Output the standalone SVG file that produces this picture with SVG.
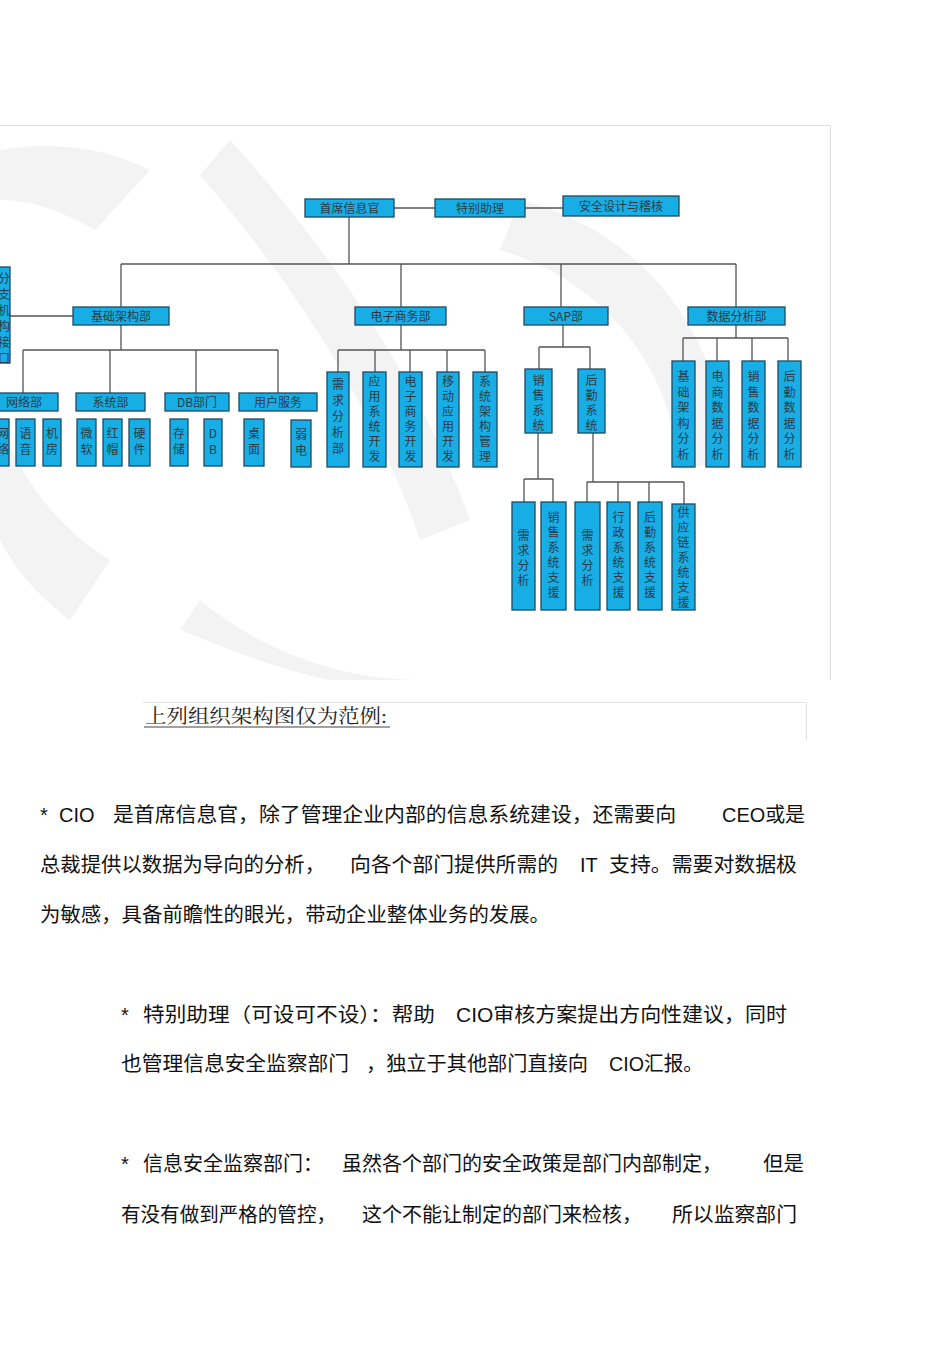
<svg xmlns="http://www.w3.org/2000/svg" width="950" height="1345" viewBox="0 0 950 1345">
<style>
.b{fill:#17aee6;stroke:#1d4a63;stroke-width:1.3}
.t{font-family:"Noto Sans CJK SC","Liberation Sans",sans-serif;font-size:12px;fill:#2a3a44;text-anchor:middle}
.v{font-family:"Noto Sans CJK SC","Liberation Sans",sans-serif;font-size:12px;fill:#2a3a44;text-anchor:middle}
.c{fill:none;stroke:#555;stroke-width:1.3}
.p{font-family:"Liberation Sans","Noto Sans CJK SC",sans-serif;font-size:20px;fill:#111}
.wm{fill:#f3f3f3}
</style>
<rect width="950" height="1345" fill="#fff"/>
<g id="watermark">
<path class="wm" d="M0 150 C60 140 110 150 150 170 L95 230 C60 210 30 200 0 200 Z"/>
<path class="wm" d="M0 420 C20 480 60 530 110 560 L70 620 C30 590 10 560 0 540 Z"/>
<path class="wm" d="M230 140 C330 250 420 380 470 520 L420 540 C380 420 300 290 200 175 Z"/>
<path class="wm" d="M520 200 C640 230 720 330 730 460 L680 470 C670 360 600 280 500 250 Z"/>
<path class="wm" d="M200 600 C260 650 340 680 420 680 L330 680 C280 670 230 650 180 630 Z"/>
</g>
<path d="M0 125.5 H830.5 V680" fill="none" stroke="#ddd" stroke-width="1"/>
<g id="connectors" class="c">
<path d="M394 208 H435 M525 208 H563"/>
<path d="M349 217 V264 M121 264 H736 M121 264 V307 M401 264 V307 M561 264 V307 M736 264 V307"/>
<path d="M10 316 H73"/>
<path d="M121 325 V350 M23 350 H278 M23 350 V393 M110 350 V393 M196 350 V393 M278 350 V393"/>
<path d="M401 325 V350 M338 350 H485 M338 350 V372 M375 350 V372 M410 350 V372 M447 350 V372 M485 350 V372"/>
<path d="M563 325 V347 M539 347 H590 M539 347 V369 M590 347 V369"/>
<path d="M538 433 V479 M524 479 H553 M524 479 V502 M553 479 V502"/>
<path d="M593 433 V482 M587 482 H684 M587 482 V502 M618 482 V502 M649 482 V502 M684 482 V504"/>
<path d="M736 325 V338 M683 338 H788 M683 338 V361 M717 338 V361 M752 338 V361 M788 338 V361"/>
</g>
<g id="n-cio"><rect class="b" x="305" y="199" width="89" height="18"/><text class="t" x="349.5" y="212.5">首席信息官</text></g>
<g id="n-assist"><rect class="b" x="435" y="199" width="90" height="18"/><text class="t" x="480" y="212.5">特别助理</text></g>
<g id="n-sec"><rect class="b" x="563" y="196" width="116" height="20"/><text class="t" x="621" y="210.5">安全设计与稽核</text></g>
<g id="n-branch"><rect class="b" x="-2" y="267" width="12" height="96"/><text class="v" x="4" y="283"><tspan x="4">分</tspan><tspan x="4" dy="16">支</tspan><tspan x="4" dy="16">机</tspan><tspan x="4" dy="16">构</tspan><tspan x="4" dy="16">接</tspan><tspan x="4" dy="16">口</tspan></text></g>
<g id="n-infra"><rect class="b" x="73" y="307" width="96" height="18"/><text class="t" x="121" y="320.5">基础架构部</text></g>
<g id="n-ec"><rect class="b" x="355" y="307" width="91" height="18"/><text class="t" x="400.5" y="320.5">电子商务部</text></g>
<g id="n-sap"><rect class="b" x="524" y="307" width="84" height="18"/><text class="t" x="566" y="320.5">SAP部</text></g>
<g id="n-da"><rect class="b" x="688" y="307" width="97" height="18"/><text class="t" x="736.5" y="320.5">数据分析部</text></g>
<g id="n-net"><rect class="b" x="-2" y="393" width="60" height="18"/><text class="t" x="24" y="406.5">网络部</text></g>
<g id="n-sys"><rect class="b" x="76" y="393" width="69" height="18"/><text class="t" x="110.5" y="406.5">系统部</text></g>
<g id="n-db"><rect class="b" x="165" y="393" width="64" height="18"/><text class="t" x="197" y="406.5">DB部门</text></g>
<g id="n-us"><rect class="b" x="239" y="393" width="78" height="18"/><text class="t" x="278" y="406.5">用户服务</text></g>
<g id="n-l1"><rect class="b" x="-2" y="419" width="11" height="47"/><text class="v" x="3" y="438"><tspan x="3">网</tspan><tspan x="3" dy="16">络</tspan></text></g>
<g id="n-l2"><rect class="b" x="16" y="419" width="19" height="47"/><text class="v" x="25.5" y="438"><tspan x="25.5">语</tspan><tspan x="25.5" dy="16">音</tspan></text></g>
<g id="n-l3"><rect class="b" x="43" y="419" width="18" height="47"/><text class="v" x="52" y="438"><tspan x="52">机</tspan><tspan x="52" dy="16">房</tspan></text></g>
<g id="n-l4"><rect class="b" x="77" y="419" width="19" height="47"/><text class="v" x="86.5" y="438"><tspan x="86.5">微</tspan><tspan x="86.5" dy="16">软</tspan></text></g>
<g id="n-l5"><rect class="b" x="103" y="419" width="19" height="47"/><text class="v" x="112.5" y="438"><tspan x="112.5">红</tspan><tspan x="112.5" dy="16">帽</tspan></text></g>
<g id="n-l6"><rect class="b" x="129" y="419" width="21" height="47"/><text class="v" x="139.5" y="438"><tspan x="139.5">硬</tspan><tspan x="139.5" dy="16">件</tspan></text></g>
<g id="n-l7"><rect class="b" x="170" y="419" width="18" height="47"/><text class="v" x="179" y="438"><tspan x="179">存</tspan><tspan x="179" dy="16">储</tspan></text></g>
<g id="n-l8"><rect class="b" x="204" y="419" width="18" height="47"/><text class="v" x="213" y="438"><tspan x="213">D</tspan><tspan x="213" dy="16">B</tspan></text></g>
<g id="n-l9"><rect class="b" x="244" y="419" width="20" height="47"/><text class="v" x="254" y="438"><tspan x="254">桌</tspan><tspan x="254" dy="16">面</tspan></text></g>
<g id="n-l10"><rect class="b" x="291" y="420" width="20" height="47"/><text class="v" x="301" y="439"><tspan x="301">弱</tspan><tspan x="301" dy="16">电</tspan></text></g>
<g id="n-e1"><rect class="b" x="327" y="372" width="22" height="95"/><text class="v" x="338" y="389"><tspan x="338">需</tspan><tspan x="338" dy="16">求</tspan><tspan x="338" dy="16">分</tspan><tspan x="338" dy="16">析</tspan><tspan x="338" dy="16">部</tspan></text></g>
<g id="n-e2"><rect class="b" x="363" y="372" width="23" height="95"/><text class="v" x="374.5" y="386"><tspan x="374.5">应</tspan><tspan x="374.5" dy="15">用</tspan><tspan x="374.5" dy="15">系</tspan><tspan x="374.5" dy="15">统</tspan><tspan x="374.5" dy="15">开</tspan><tspan x="374.5" dy="15">发</tspan></text></g>
<g id="n-e3"><rect class="b" x="399" y="372" width="23" height="95"/><text class="v" x="410.5" y="386"><tspan x="410.5">电</tspan><tspan x="410.5" dy="15">子</tspan><tspan x="410.5" dy="15">商</tspan><tspan x="410.5" dy="15">务</tspan><tspan x="410.5" dy="15">开</tspan><tspan x="410.5" dy="15">发</tspan></text></g>
<g id="n-e4"><rect class="b" x="437" y="372" width="22" height="95"/><text class="v" x="448" y="386"><tspan x="448">移</tspan><tspan x="448" dy="15">动</tspan><tspan x="448" dy="15">应</tspan><tspan x="448" dy="15">用</tspan><tspan x="448" dy="15">开</tspan><tspan x="448" dy="15">发</tspan></text></g>
<g id="n-e5"><rect class="b" x="473" y="372" width="24" height="95"/><text class="v" x="485" y="386"><tspan x="485">系</tspan><tspan x="485" dy="15">统</tspan><tspan x="485" dy="15">架</tspan><tspan x="485" dy="15">构</tspan><tspan x="485" dy="15">管</tspan><tspan x="485" dy="15">理</tspan></text></g>
<g id="n-s1"><rect class="b" x="525" y="369" width="27" height="64"/><text class="v" x="538.5" y="385"><tspan x="538.5">销</tspan><tspan x="538.5" dy="15">售</tspan><tspan x="538.5" dy="15">系</tspan><tspan x="538.5" dy="15">统</tspan></text></g>
<g id="n-s2"><rect class="b" x="578" y="369" width="27" height="64"/><text class="v" x="591.5" y="385"><tspan x="591.5">后</tspan><tspan x="591.5" dy="15">勤</tspan><tspan x="591.5" dy="15">系</tspan><tspan x="591.5" dy="15">统</tspan></text></g>
<g id="n-s11"><rect class="b" x="512" y="502" width="23" height="108"/><text class="v" x="523.5" y="540"><tspan x="523.5">需</tspan><tspan x="523.5" dy="15">求</tspan><tspan x="523.5" dy="15">分</tspan><tspan x="523.5" dy="15">析</tspan></text></g>
<g id="n-s12"><rect class="b" x="541" y="502" width="25" height="108"/><text class="v" x="553.5" y="522"><tspan x="553.5">销</tspan><tspan x="553.5" dy="15">售</tspan><tspan x="553.5" dy="15">系</tspan><tspan x="553.5" dy="15">统</tspan><tspan x="553.5" dy="15">支</tspan><tspan x="553.5" dy="15">援</tspan></text></g>
<g id="n-s21"><rect class="b" x="575" y="502" width="25" height="108"/><text class="v" x="587.5" y="540"><tspan x="587.5">需</tspan><tspan x="587.5" dy="15">求</tspan><tspan x="587.5" dy="15">分</tspan><tspan x="587.5" dy="15">析</tspan></text></g>
<g id="n-s22"><rect class="b" x="607" y="502" width="23" height="108"/><text class="v" x="618.5" y="522"><tspan x="618.5">行</tspan><tspan x="618.5" dy="15">政</tspan><tspan x="618.5" dy="15">系</tspan><tspan x="618.5" dy="15">统</tspan><tspan x="618.5" dy="15">支</tspan><tspan x="618.5" dy="15">援</tspan></text></g>
<g id="n-s23"><rect class="b" x="638" y="502" width="24" height="108"/><text class="v" x="650" y="522"><tspan x="650">后</tspan><tspan x="650" dy="15">勤</tspan><tspan x="650" dy="15">系</tspan><tspan x="650" dy="15">统</tspan><tspan x="650" dy="15">支</tspan><tspan x="650" dy="15">援</tspan></text></g>
<g id="n-s24"><rect class="b" x="672" y="504" width="23" height="106"/><text class="v" x="683.5" y="517"><tspan x="683.5">供</tspan><tspan x="683.5" dy="15">应</tspan><tspan x="683.5" dy="15">链</tspan><tspan x="683.5" dy="15">系</tspan><tspan x="683.5" dy="15">统</tspan><tspan x="683.5" dy="15">支</tspan><tspan x="683.5" dy="15">援</tspan></text></g>
<g id="n-d1"><rect class="b" x="672" y="361" width="23" height="106"/><text class="v" x="683.5" y="381"><tspan x="683.5">基</tspan><tspan x="683.5" dy="15.5">础</tspan><tspan x="683.5" dy="15.5">架</tspan><tspan x="683.5" dy="15.5">构</tspan><tspan x="683.5" dy="15.5">分</tspan><tspan x="683.5" dy="15.5">析</tspan></text></g>
<g id="n-d2"><rect class="b" x="706" y="361" width="23" height="106"/><text class="v" x="717.5" y="381"><tspan x="717.5">电</tspan><tspan x="717.5" dy="15.5">商</tspan><tspan x="717.5" dy="15.5">数</tspan><tspan x="717.5" dy="15.5">据</tspan><tspan x="717.5" dy="15.5">分</tspan><tspan x="717.5" dy="15.5">析</tspan></text></g>
<g id="n-d3"><rect class="b" x="742" y="361" width="23" height="106"/><text class="v" x="753.5" y="381"><tspan x="753.5">销</tspan><tspan x="753.5" dy="15.5">售</tspan><tspan x="753.5" dy="15.5">数</tspan><tspan x="753.5" dy="15.5">据</tspan><tspan x="753.5" dy="15.5">分</tspan><tspan x="753.5" dy="15.5">析</tspan></text></g>
<g id="n-d4"><rect class="b" x="778" y="361" width="23" height="106"/><text class="v" x="789.5" y="381"><tspan x="789.5">后</tspan><tspan x="789.5" dy="15.5">勤</tspan><tspan x="789.5" dy="15.5">数</tspan><tspan x="789.5" dy="15.5">据</tspan><tspan x="789.5" dy="15.5">分</tspan><tspan x="789.5" dy="15.5">析</tspan></text></g>
<path d="M143 702.5 H806.5 V740" fill="none" stroke="#e2e2e2" stroke-width="1"/>
<text x="145" y="723" font-family="'Liberation Serif','Noto Serif CJK SC','Noto Sans CJK SC',serif" font-size="19" fill="#222" textLength="242" lengthAdjust="spacingAndGlyphs">上列组织架构图仅为范例:</text>
<line x1="144" y1="727" x2="390" y2="727" stroke="#444" stroke-width="1.2"/>
<g class="p">
<text x="40" y="822">*</text><text x="59" y="822">CIO</text>
<text x="113" y="822" textLength="563" lengthAdjust="spacingAndGlyphs">是首席信息官，除了管理企业内部的信息系统建设，还需要向</text>
<text x="722" y="822" textLength="83" lengthAdjust="spacingAndGlyphs">CEO或是</text>
<text x="40" y="872" textLength="285" lengthAdjust="spacingAndGlyphs">总裁提供以数据为导向的分析，</text>
<text x="350" y="872" textLength="208" lengthAdjust="spacingAndGlyphs">向各个部门提供所需的</text>
<text x="580" y="872">IT</text>
<text x="609" y="872" textLength="188" lengthAdjust="spacingAndGlyphs">支持。需要对数据极</text>
<text x="40" y="922" textLength="510" lengthAdjust="spacingAndGlyphs">为敏感，具备前瞻性的眼光，带动企业整体业务的发展。</text>
<text x="121" y="1022">*</text>
<text x="143" y="1022" textLength="292" lengthAdjust="spacingAndGlyphs">特别助理（可设可不设）：帮助</text>
<text x="456" y="1022" textLength="331" lengthAdjust="spacingAndGlyphs">CIO审核方案提出方向性建议，同时</text>
<text x="121" y="1071" textLength="228" lengthAdjust="spacingAndGlyphs">也管理信息安全监察部门</text>
<text x="366" y="1071" textLength="222" lengthAdjust="spacingAndGlyphs">，独立于其他部门直接向</text>
<text x="609" y="1071" textLength="94" lengthAdjust="spacingAndGlyphs">CIO汇报。</text>
<text x="121" y="1171">*</text>
<text x="143" y="1171" textLength="180" lengthAdjust="spacingAndGlyphs">信息安全监察部门：</text>
<text x="342" y="1171" textLength="380" lengthAdjust="spacingAndGlyphs">虽然各个部门的安全政策是部门内部制定，</text>
<text x="763" y="1171" textLength="41" lengthAdjust="spacingAndGlyphs">但是</text>
<text x="121" y="1222" textLength="215" lengthAdjust="spacingAndGlyphs">有没有做到严格的管控，</text>
<text x="362" y="1222" textLength="280" lengthAdjust="spacingAndGlyphs">这个不能让制定的部门来检核，</text>
<text x="672" y="1222" textLength="125" lengthAdjust="spacingAndGlyphs">所以监察部门</text>
</g>
</svg>
